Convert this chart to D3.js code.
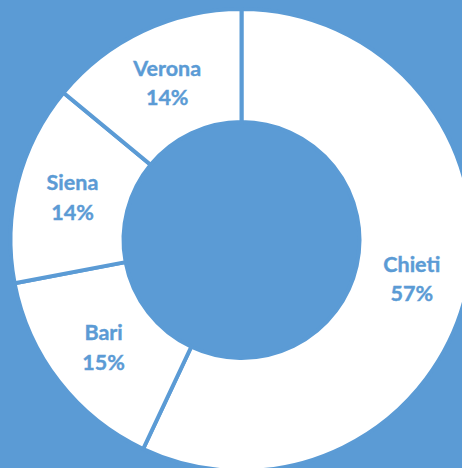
<!DOCTYPE html>
<html>
<head>
<meta charset="utf-8">
<script src="https://cdn.jsdelivr.net/npm/d3@7"></script>
<style>
  html, body { margin: 0; padding: 0; background: #5b9bd5; }
  svg { display: block; }
</style>
</head>
<body>
<div class="chart"></div>
<script>
// città e quote
const cities = ["Chieti", "Bari", "Siena", "Verona"];
const shares = [57, 15, 14, 14];

const width = 462,
    height = 468,
    cx = 241.5,
    cy = 240,
    outerR = 231,
    innerR = 118;

const blue = "#5b9bd5";

const svg = d3.select(".chart").append("svg")
    .attr("width", width)
    .attr("height", height);

svg.append("rect")
    .attr("width", width)
    .attr("height", height)
    .attr("fill", blue);

const data = cities.map((c, i) => ({ city: c, value: shares[i] }));

const pie = d3.pie()
    .value(d => d.value)
    .sort(null);

const arc = d3.arc()
    .innerRadius(innerR)
    .outerRadius(outerR);

const total = d3.sum(shares);
const pct = v => Math.round(100 * v / total) + "%";

const g = svg.append("g")
    .attr("transform", `translate(${cx},${cy})`);

g.selectAll("path")
    .data(pie(data))
    .join("path")
    .attr("d", arc)
    .attr("fill", "#fff")
    .attr("stroke", blue)
    .attr("stroke-width", 4)
    .attr("stroke-linejoin", "round");

const labels = g.selectAll("text")
    .data(pie(data))
    .join("text")
    .attr("transform", d => `translate(${arc.centroid(d)})`)
    .attr("text-anchor", "middle")
    .attr("fill", blue)
    .attr("stroke", blue)
    .attr("stroke-width", 0.4)
    .style("font-family", "Lato, 'Open Sans', sans-serif")
    .style("font-weight", 700)
    .style("font-size", "21.5px");

labels.append("tspan")
    .attr("x", 0)
    .attr("y", -6.5)
    .text(d => d.data.city);

labels.append("tspan")
    .attr("x", 0)
    .attr("y", 23)
    .text(d => pct(d.data.value));
</script>
</body>
</html>
